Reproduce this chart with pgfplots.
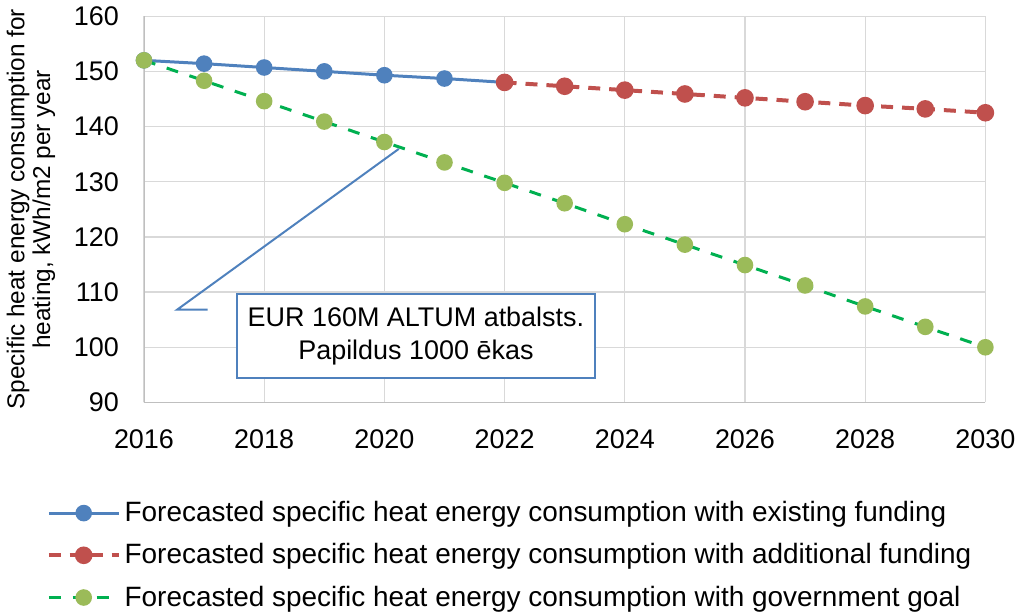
\documentclass[border=0pt]{standalone}
\usepackage{pgfplots}
\pgfplotsset{compat=1.18}
\usepackage{fontspec}
\setmainfont{Liberation Sans}

\definecolor{cblue}{HTML}{4F81BD}
\definecolor{cred}{HTML}{C0504D}
\definecolor{cgreenline}{HTML}{00B050}
\definecolor{cgreenmark}{HTML}{9BBB59}
\definecolor{gridgray}{HTML}{D9D9D9}
\definecolor{axisgray}{HTML}{BFBFBF}

\begin{document}
\begin{tikzpicture}
\begin{axis}[
    scale only axis,
    width=421.5pt,
    height=193.5pt,
    xmin=2016, xmax=2030,
    ymin=90, ymax=160,
    xtick={2016,2018,...,2030},
    ytick={90,100,...,160},
    /pgf/number format/assume math mode=true,
    /pgf/number format/set thousands separator={},
    tick style={draw=none},
    grid=major,
    major grid style={gridgray, line width=0.6pt},
    axis line style={draw=none},
    ticklabel style={font=\fontsize{13.5}{16}\selectfont},
    yticklabel style={xshift=-9pt},
    xticklabel style={yshift=-10pt},
    ylabel={Specific heat energy consumption for\\heating, kWh/m2 per year},
    ylabel style={align=center, font=\fontsize{12.2}{13}\selectfont, yshift=2.5pt},
    legend cell align=left,
    legend style={draw=none, fill=none, inner sep=0pt,
        at={(rel axis cs:-0.116,-0.245)}, anchor=north west,
        font=\fontsize{14}{16}\selectfont, row sep=5.5pt,
        /tikz/every even column/.append style={column sep=5pt}},
    legend image code/.code={
        \draw[mark repeat=2,mark phase=2] plot coordinates {(0pt,0pt) (17.5pt,0pt) (35pt,0pt)};},
]
\draw[axisgray, line width=0.7pt] (rel axis cs:0,1) -- (rel axis cs:0,0) -- (rel axis cs:1,0);

\addplot[cblue, line width=1.5pt, mark=*, mark size=3.4pt, mark options={solid, fill=cblue, draw=cblue}]
coordinates {(2016,152.0) (2017,151.4) (2018,150.7) (2019,150.0) (2020,149.3) (2021,148.7) (2022,148.0)};
\addlegendentry{Forecasted specific heat energy consumption with existing funding}

\addplot[cred, line width=2pt, dash pattern=on 6pt off 4.5pt, mark=*, mark size=3.4pt, mark options={solid, fill=cred, draw=cred}]
coordinates {(2022,148.0) (2023,147.3) (2024,146.6) (2025,145.9) (2026,145.2) (2027,144.5) (2028,143.8) (2029,143.2) (2030,142.5)};
\addlegendentry{Forecasted specific heat energy consumption with additional funding}

\addplot[cgreenline, line width=1.5pt, dash pattern=on 6pt off 6pt, mark=*, mark size=3.4pt, mark options={solid, fill=cgreenmark, draw=cgreenmark}]
coordinates {(2016,152.0) (2017,148.3) (2018,144.6) (2019,140.9) (2020,137.2) (2021,133.5) (2022,129.8) (2023,126.1) (2024,122.3) (2025,118.6) (2026,114.9) (2027,111.2) (2028,107.4) (2029,103.7) (2030,100.0)};
\addlegendentry{Forecasted specific heat energy consumption with government goal}

% callout
\draw[cblue, line width=1pt] (axis cs:2020.24,135.95) -- (axis cs:2016.55,106.8) -- (axis cs:2017.06,106.8);
\draw[cblue, line width=1pt, fill=white] (axis cs:2017.54,109.7) rectangle (axis cs:2023.51,94.35);
\node[align=center, font=\fontsize{13.5}{16.5}\selectfont] at (axis cs:2020.525,102.0)
    {EUR 160M ALTUM atbalsts.\\Papildus 1000 ēkas};
\end{axis}
\end{tikzpicture}
\end{document}
